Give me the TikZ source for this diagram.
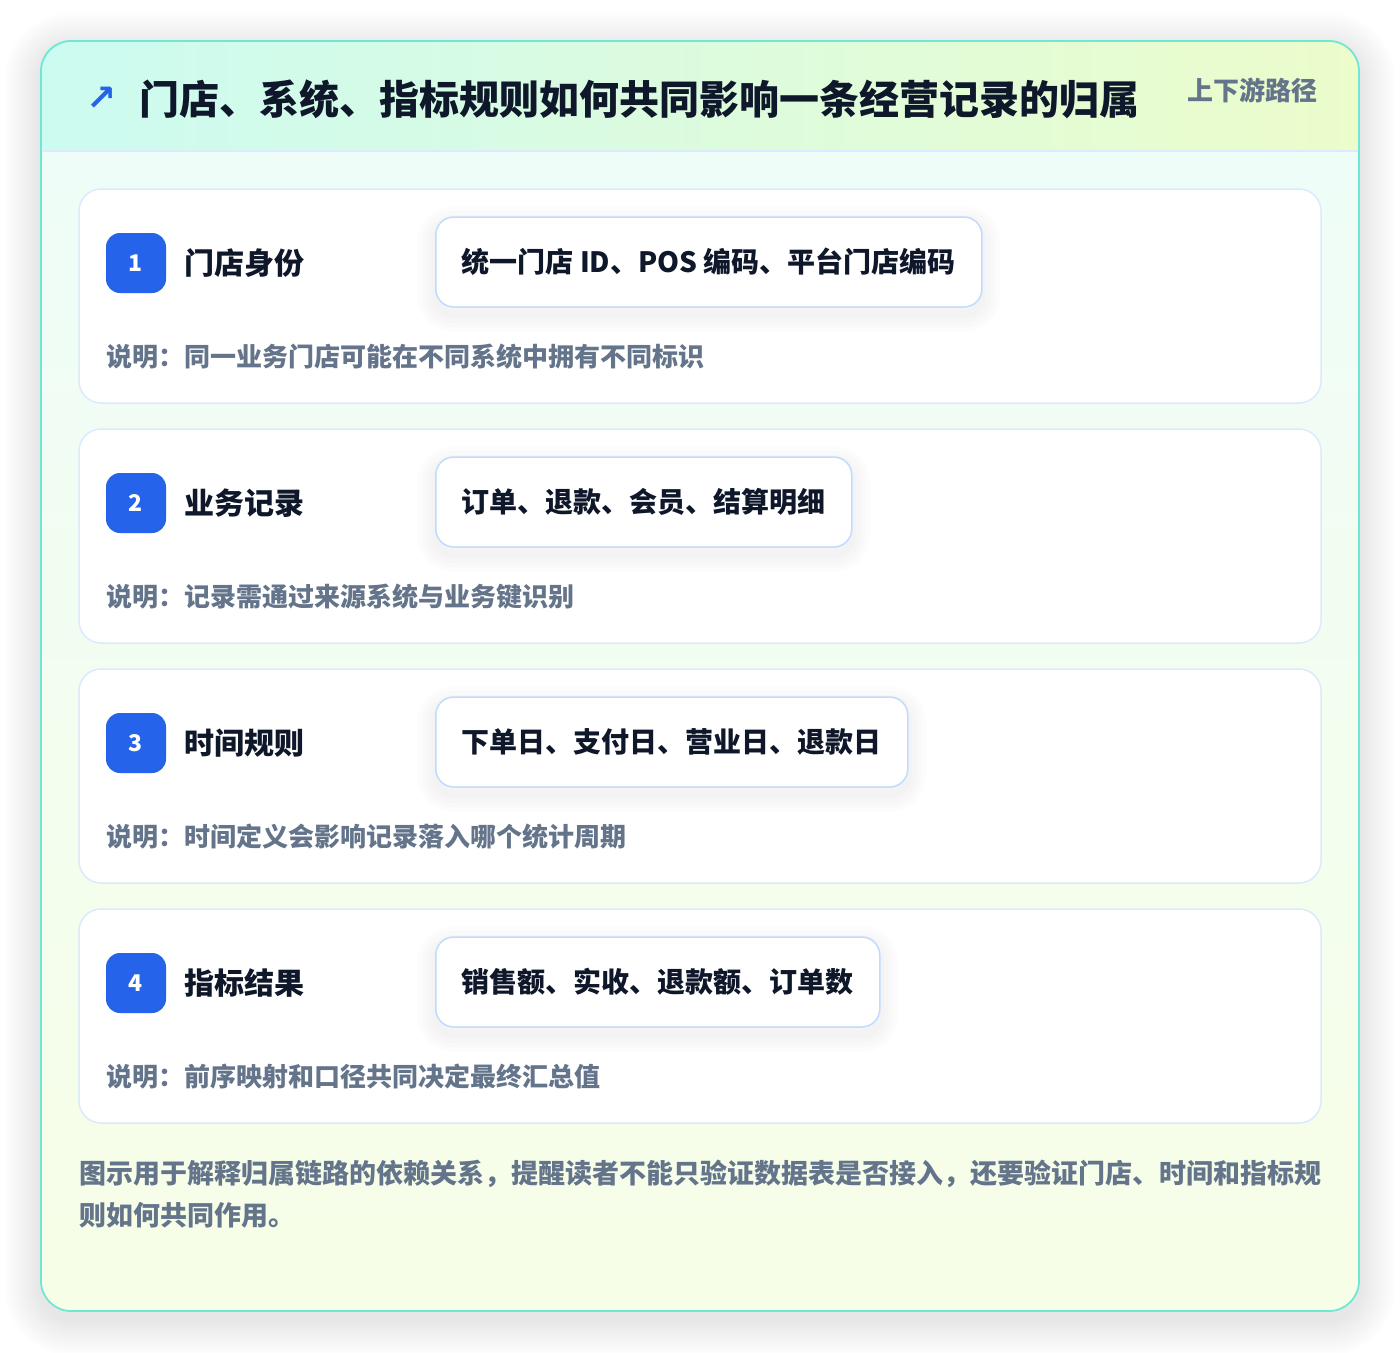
\documentclass[tikz,border=0pt]{standalone}
\usepackage{fontspec}
\setmainfont{Noto Sans CJK SC}
\newfontfamily\symfont{DejaVu Sans}

\definecolor{frameline}{HTML}{6EE7D4}
\definecolor{headleft}{HTML}{CCFBF1}
\definecolor{headright}{HTML}{ECFCCB}
\definecolor{bodytop}{HTML}{EFFDF8}
\definecolor{bodybottom}{HTML}{F7FEE7}
\definecolor{cardline}{HTML}{DBEAFE}
\definecolor{tagline}{HTML}{BFDBFE}
\definecolor{badgeblue}{HTML}{2563EB}
\definecolor{ink}{HTML}{0F172A}
\definecolor{slate}{HTML}{64748B}

\tikzset{softshadow/.style={preaction={draw=black, draw opacity=0.011,
    line width=#1, transform canvas={yshift=-7pt}}}}

\begin{document}
\begin{tikzpicture}[x=1pt,y=-1pt,
    card/.style={draw=cardline, line width=1.5pt, fill=white, rounded corners=22pt},
    badge/.style={fill=badgeblue, rounded corners=14pt, minimum size=60pt, inner sep=0pt,
        text=white, font=\bfseries\fontsize{23}{23}\selectfont},
    stage/.style={anchor=west, inner sep=0pt, text=ink, font=\bfseries\fontsize{30}{30}\selectfont},
    tagbox/.style={anchor=west, draw=tagline, line width=1.5pt, fill=white, rounded corners=18pt,
        minimum height=90pt, inner xsep=26pt, text=ink, font=\bfseries\fontsize{28}{28}\selectfont,
        softshadow=36pt, softshadow=27pt, softshadow=18pt, softshadow=9pt},
    notetext/.style={anchor=west, inner sep=0pt, text=slate, font=\bfseries\fontsize{26}{26}\selectfont}]
    \useasboundingbox (0,0) rectangle (1400,1352);
    \fill[white] (0,0) rectangle (1400,1352);

    % soft shadow under the frame
    \foreach \s [evaluate=\s as \r using 30+\s] in {3,6,...,36}
        \fill[black, opacity=0.007, rounded corners=\r pt] (41-\s,49-\s) rectangle (1359+\s,1319+\s);

    % frame with header band
    \begin{scope}
        \clip[rounded corners=30pt] (41,41) rectangle (1359,1311);
        \fill[top color=bodytop, bottom color=bodybottom] (41,151) rectangle (1359,1311);
        \fill[left color=headleft, right color=headright] (41,41) rectangle (1359,151);
        \draw[cardline, line width=1.5pt] (41,151) -- (1359,151);
    \end{scope}
    \draw[frameline, line width=1.8pt, rounded corners=30pt] (41,41) rectangle (1359,1311);

    \node (arrow) at (102,99) {\symfont\bfseries\color{badgeblue}\fontsize{36}{36}\selectfont ↗};
    \node (title) [anchor=west, inner sep=0pt, text=ink, font=\bfseries\fontsize{40}{40}\selectfont]
        at (139,99) {门店、系统、指标规则如何共同影响一条经营记录的归属};
    \node (path) [anchor=east, inner sep=0pt, text=slate, font=\bfseries\fontsize{26}{26}\selectfont]
        at (1318,90) {上下游路径};

    % the four stages
    \foreach \n/\lab/\tag/\note in {
        1/门店身份/统一门店 ID、POS 编码、平台门店编码/说明：同一业务门店可能在不同系统中拥有不同标识,
        2/业务记录/订单、退款、会员、结算明细/说明：记录需通过来源系统与业务键识别,
        3/时间规则/下单日、支付日、营业日、退款日/说明：时间定义会影响记录落入哪个统计周期,
        4/指标结果/销售额、实收、退款额、订单数/说明：前序映射和口径共同决定最终汇总值} {
        \pgfmathsetmacro{\top}{189+240*(\n-1)}
        \draw[card] (79,\top) rectangle (1321,\top+214);
        \node (badge\n) [badge] at (136,\top+74) {\n};
        \node (stage\n) [stage] at (184,\top+74) {\lab};
        \node (tag\n) [tagbox] at (435,\top+73) {\tag};
        \node (note\n) [notetext] at (106,\top+168) {\note};
    }

    \node (summary) [anchor=north west, inner sep=0pt, align=left, text=slate,
        font=\bfseries\fontsize{27}{42}\selectfont] at (79,1160)
        {图示用于解释归属链路的依赖关系，提醒读者不能只验证数据表是否接入，还要验证门店、时间和指标规\\则如何共同作用。};
\end{tikzpicture}
\end{document}
